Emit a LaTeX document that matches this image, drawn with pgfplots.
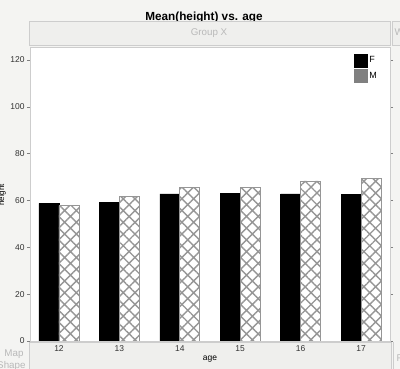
\documentclass[border=0pt]{standalone}
\usepackage{pgfplots}
\pgfplotsset{compat=1.18}
\usetikzlibrary{patterns.meta}
\usepackage{fontspec}
\setmainfont{Liberation Sans}
\definecolor{bgc}{RGB}{244,244,242}
\definecolor{boxc}{RGB}{239,239,237}
\definecolor{linec}{RGB}{205,205,205}
\definecolor{ghost}{RGB}{185,185,185}
\definecolor{hatchc}{RGB}{150,150,150}
\definecolor{tickc}{RGB}{50,50,50}
\begin{document}
\begin{tikzpicture}
\useasboundingbox (0,0) rectangle (400bp,369bp);
\clip (0,0) rectangle (400bp,369bp);
\fill[bgc] (0,0) rectangle (400bp,369bp);
% title
\node[font=\bfseries\fontsize{11.8}{13}\selectfont] at (204bp,352bp) {Mean(height) vs. age};
% Group X box
\filldraw[fill=boxc,draw=linec] (29bp,324bp) rectangle (390bp,348bp);
\node[text=ghost,font=\fontsize{9.8}{11}\selectfont] at (209bp,336bp) {Group X};
\filldraw[fill=boxc,draw=linec] (392bp,324bp) rectangle (410bp,348bp);
\node[text=ghost,font=\fontsize{9.8}{11}\selectfont,anchor=west] at (391bp,336bp) {Wrap};
% bottom panels
\filldraw[fill=boxc,draw=linec] (29bp,-5bp) rectangle (391bp,27bp);
\draw[linec] (393bp,-5bp) -- (393bp,27bp);
\node[text=ghost,font=\fontsize{9.8}{11}\selectfont,anchor=west] at (393bp,10bp) {Freq};
\node[text=ghost,font=\fontsize{9.8}{11}\selectfont,anchor=east] at (27bp,15bp) {Map};
\node[text=ghost,font=\fontsize{9.8}{11}\selectfont,anchor=east] at (29bp,3bp) {Shape};
% y label
\node[rotate=90,font=\fontsize{8}{9}\selectfont] at (2bp,174bp) {height};
\begin{axis}[
  at={(30bp,28bp)}, anchor=south west,
  scale only axis, width=360bp, height=294bp,
  xmin=11.52, xmax=17.48, ymin=0, ymax=125.5,
  axis background/.style={fill=white},
  ybar=0pt, bar width=20bp,
  xtick={12,13,14,15,16,17},
  ytick={0,20,40,60,80,100,120},
  tick align=outside,
  major tick length=3bp,
  xtick style={draw=none},
  ytick style={draw=gray,line width=0.4pt},
  axis line style={draw=linec},
  tick label style={font=\fontsize{8.5}{9}\selectfont, text=tickc},
  /pgf/number format/assume math mode=true,
  xlabel={age}, xlabel style={font=\fontsize{8.5}{9}\selectfont, yshift=2bp},
  xticklabel style={yshift=2bp},
  yticklabel style={xshift=1bp},
  legend style={at={(0.978,0.985)}, anchor=north east, draw=none, fill=none,
    font=\fontsize{9}{10}\selectfont, row sep=2bp},
  legend cell align=left,
]
\addplot[fill=black, draw=black,
  legend image code/.code={\draw[fill=black,draw=black] (0bp,-6.5bp) rectangle (13bp,6.5bp);}]
  coordinates {
  (12,58.8) (13,59.1) (14,62.8) (15,63.0) (16,62.8) (17,62.6)};
\addlegendentry{F}
\addplot[fill=white, draw=hatchc, line width=0.8pt, pattern color=hatchc,
  postaction={pattern={Hatch[angle=45,distance=8.3bp,line width=1.4bp]}},
  legend image code/.code={\draw[fill=gray,draw=gray,pattern color=gray] (0bp,-6.5bp) rectangle (13bp,6.5bp);}]
  coordinates {
  (12,57.8) (13,61.6) (14,65.6) (15,65.6) (16,68.3) (17,69.2)};
\addlegendentry{M}
\end{axis}
\end{tikzpicture}
\end{document}
